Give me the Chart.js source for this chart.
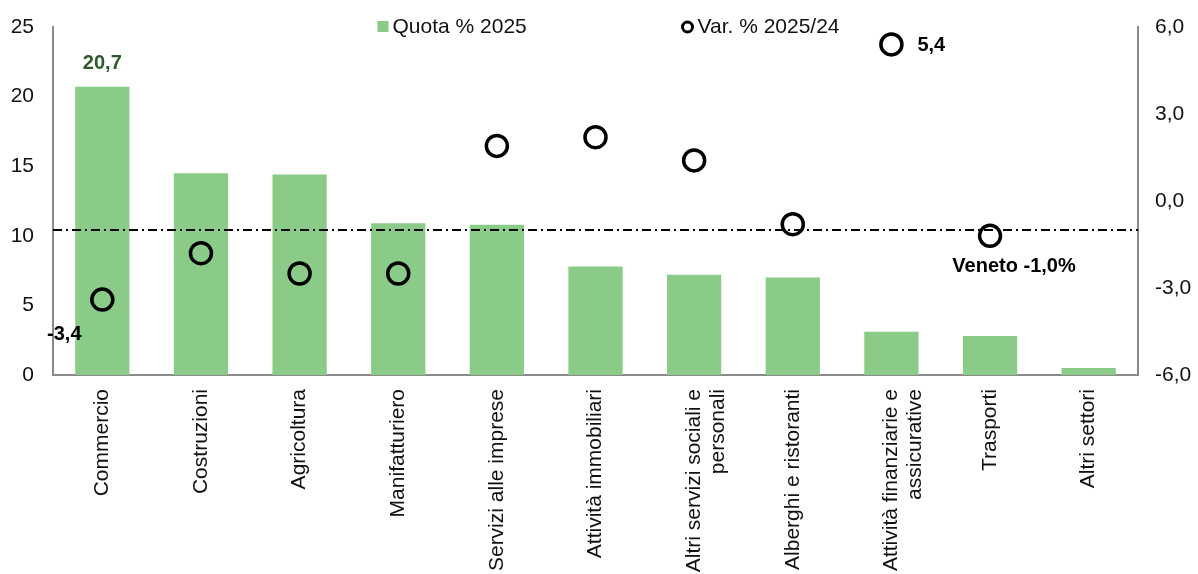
<!DOCTYPE html>
<html>
<head>
<meta charset="utf-8">
<script src="https://cdn.jsdelivr.net/npm/chart.js@4.4.1/dist/chart.umd.min.js"></script>
<style>
  html, body { margin: 0; padding: 0; background: #fff; }
  #grafico { display: block; }
</style>
</head>
<body>
<canvas id="grafico" width="1198" height="574"></canvas>
<script>
// dati
const categorie = [
  'Commercio', 'Costruzioni', 'Agricoltura', 'Manifatturiero', 'Servizi alle imprese',
  'Attività immobiliari', ['Altri servizi sociali e', 'personali'], 'Alberghi e ristoranti',
  ['Attività finanziarie e', 'assicurative'], 'Trasporti', 'Altri settori'
];
const quota2025 = [20.7, 14.5, 14.4, 10.9, 10.8, 7.8, 7.2, 7.0, 3.1, 2.8, 0.5];
const var2025su24 = [-3.4, -1.8, -2.5, -2.5, 1.9, 2.2, 1.4, -0.8, 5.4, -1.2, null];
const mediaVeneto = -1.0;
const tickSinistra = [0, 5, 10, 15, 20, 25];
const tickDestra = [-6, -3, 0, 3, 6];

const verde = '#8ACB88';
const verdeScuro = '#2B5A2A';
const grigioAsse = '#8a8a8a';
const font = '"Liberation Sans", Arial, sans-serif';

const virgola = (v, dec) => v.toFixed(dec).replace('.', ',');

// larghezza fissa degli assi verticali, senza il margine extra in alto/basso
const fissaAsse = larghezza => s => {
  s.width = larghezza;
  s.paddingTop = 0;
  s.paddingBottom = 0;
};

// linea tratto-punto della media Veneto, disegnata sopra le barre
const lineaVeneto = {
  id: 'lineaVeneto',
  afterDatasetDraw(chart, args) {
    if (args.index !== 0) return;
    const { ctx, chartArea } = chart;
    const y = chart.scales.y1.getPixelForValue(mediaVeneto);
    ctx.save();
    ctx.strokeStyle = '#000';
    ctx.lineWidth = 2;
    ctx.setLineDash([9, 4, 2, 4]);
    ctx.beginPath();
    ctx.moveTo(chartArea.left, y);
    ctx.lineTo(chartArea.right, y);
    ctx.stroke();
    ctx.restore();
  }
};

// etichette dei valori e legenda
const etichette = {
  id: 'etichette',
  afterDraw(chart) {
    const { ctx } = chart;
    const barre = chart.getDatasetMeta(0).data;
    const punti = chart.getDatasetMeta(1).data;
    ctx.save();
    ctx.font = 'bold 20px ' + font;
    ctx.textBaseline = 'middle';

    // 20,7 sopra la prima barra
    ctx.fillStyle = verdeScuro;
    ctx.textAlign = 'center';
    ctx.fillText(virgola(quota2025[0], 1), barre[0].x, barre[0].y - 23);

    ctx.fillStyle = '#000';
    // -3,4 sotto a sinistra del primo punto
    ctx.fillText(virgola(var2025su24[0], 1), punti[0].x - 38, punti[0].y + 35);
    // 5,4 a destra del punto
    ctx.textAlign = 'left';
    ctx.fillText(virgola(var2025su24[8], 1), punti[8].x + 26, punti[8].y + 1);
    // Veneto
    ctx.textAlign = 'center';
    const yV = chart.scales.y1.getPixelForValue(mediaVeneto);
    ctx.fillText('Veneto ' + virgola(mediaVeneto, 1) + '%', punti[9].x + 24, yV + 36);

    // legenda
    const yL = chart.chartArea.top;
    const cx = (chart.chartArea.left + chart.chartArea.right) / 2;
    ctx.font = '21px ' + font;
    ctx.textAlign = 'left';
    ctx.fillStyle = verde;
    ctx.fillRect(cx - 218, yL - 6, 11, 11);
    ctx.fillStyle = '#111';
    ctx.fillText(chart.data.datasets[0].label, cx - 203, yL);
    ctx.strokeStyle = '#000';
    ctx.lineWidth = 3;
    ctx.beginPath();
    ctx.arc(cx + 92, yL, 5, 0, Math.PI * 2);
    ctx.stroke();
    ctx.fillText(chart.data.datasets[1].label, cx + 102, yL);
    ctx.restore();
  }
};

new Chart(document.getElementById('grafico'), {
  type: 'bar',
  data: {
    labels: categorie,
    datasets: [{
      label: 'Quota % 2025',
      data: quota2025,
      backgroundColor: verde,
      barPercentage: 0.55,
      categoryPercentage: 1,
      yAxisID: 'y',
      order: 1
    }, {
      type: 'line',
      label: 'Var. % 2025/24',
      data: var2025su24,
      showLine: false,
      pointStyle: 'circle',
      pointRadius: 10.5,
      pointBorderWidth: 3.5,
      pointBorderColor: '#000',
      pointBackgroundColor: 'rgba(0,0,0,0)',
      yAxisID: 'y1',
      order: 0
    }]
  },
  options: {
    responsive: false,
    animation: false,
    layout: { autoPadding: false, padding: { top: 27, left: 0, right: 0, bottom: 0 } },
    plugins: {
      legend: { display: false },
      tooltip: { enabled: false }
    },
    scales: {
      x: {
        grid: { display: false, drawTicks: false },
        border: { display: true, color: grigioAsse, width: 2 },
        ticks: {
          color: '#111',
          font: { family: font, size: 21, lineHeight: 1.15 },
          minRotation: 90,
          maxRotation: 90,
          autoSkip: false,
          padding: 14
        },
        afterFit(s) { s.height = 199; }
      },
      y: {
        position: 'left',
        min: tickSinistra[0],
        max: tickSinistra[tickSinistra.length - 1],
        grid: { display: false, drawTicks: false },
        border: { display: true, color: grigioAsse, width: 2 },
        ticks: {
          stepSize: tickSinistra[1] - tickSinistra[0],
          color: '#111',
          font: { family: font, size: 21 },
          padding: 19
        },
        afterFit: fissaAsse(53)
      },
      y1: {
        position: 'right',
        min: tickDestra[0],
        max: tickDestra[tickDestra.length - 1],
        grid: { display: false, drawTicks: false },
        border: { display: true, color: grigioAsse, width: 2 },
        ticks: {
          stepSize: tickDestra[1] - tickDestra[0],
          color: '#111',
          font: { family: font, size: 21 },
          padding: 17,
          callback: v => virgola(v, 1)
        },
        afterFit: fissaAsse(60)
      }
    }
  },
  plugins: [lineaVeneto, etichette]
});
</script>
</body>
</html>
